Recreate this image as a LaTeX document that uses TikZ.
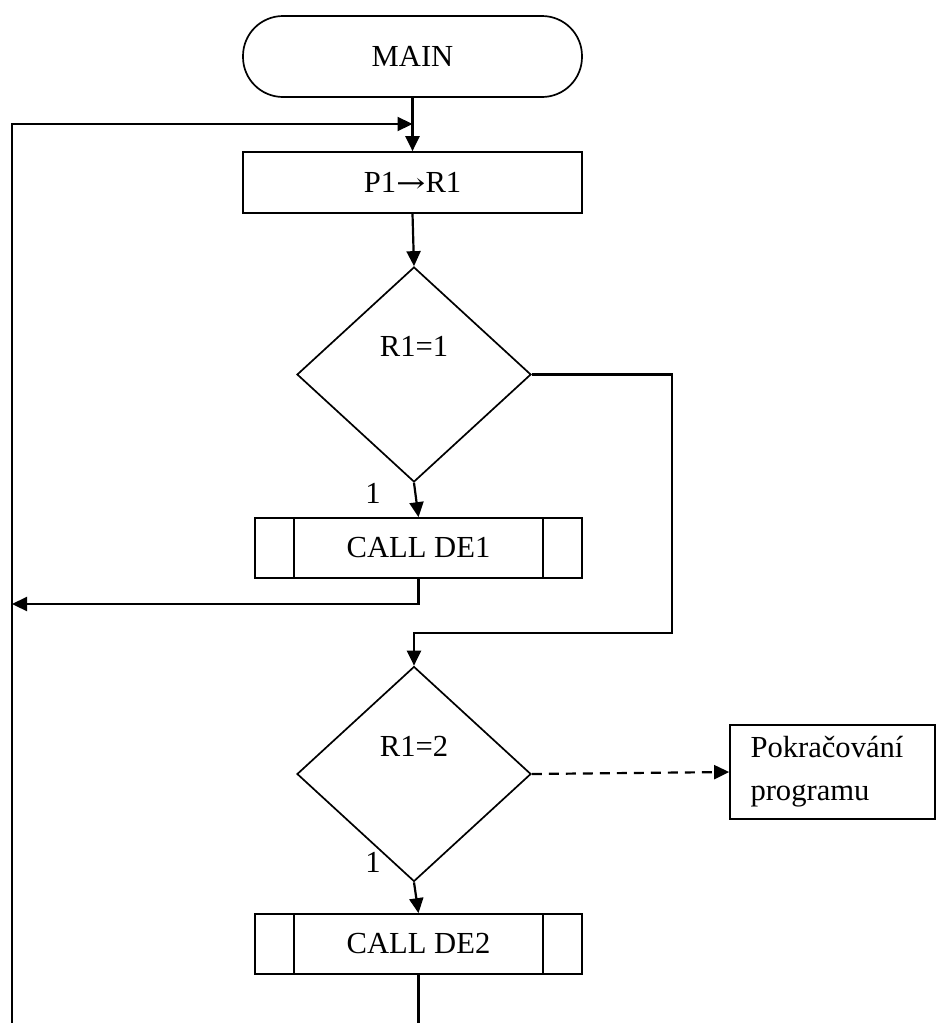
\documentclass[tikz,border=0pt]{standalone}
\usepackage{fontspec}
\setmainfont{Liberation Serif}
\newfontfamily\arrowfont{DejaVu Serif}
\usetikzlibrary{shapes.geometric,arrows.meta,calc}
\begin{document}
\begin{tikzpicture}[x=1pt,y=-1pt,
  every node/.style={font=\fontsize{30.6pt}{43pt}\selectfont},
  boxline/.style={line width=1.7pt},
  conn/.style={line width=2.2pt},
  tip/.style={-{Triangle[length=15pt,width=14pt]}},
  terminal/.style={boxline,draw,rounded corners=40pt,minimum width=339pt,minimum height=81pt,inner sep=0pt},
  process/.style={boxline,draw,minimum width=339pt,minimum height=61pt,inner sep=0pt},
  subproc/.style={boxline,draw,minimum width=327pt,minimum height=60pt,inner sep=0pt},
  decision/.style={boxline,draw,diamond,minimum width=234pt,minimum height=215pt,inner sep=0pt},
  plain/.style={inner sep=0pt}
]
\useasboundingbox (0,0) rectangle (936,1023);

% nodes
\node[terminal] (main) at (412.5,56.5) {MAIN};
\node[process]  (p1)   at (412.5,182.5) {P1{\arrowfont\fontsize{27pt}{43pt}\selectfont\scalebox{1.3}[1]{→}}R1};
\node[decision] (d1)   at (414,374.5) {};
\node[plain]    (d1t)  at (414,346) {R1=1};
\node[subproc]  (c1)   at (418.5,548) {CALL DE1};
\node[plain]    (l1)   at (373,493) {1};
\node[decision] (d2)   at (414,774) {};
\node[plain]    (d2t)  at (414,746) {R1=2};
\node[plain]    (l2)   at (373,862) {1};
\node[subproc]  (c2)   at (418.5,944) {CALL DE2};
\node[boxline,draw,minimum width=205pt,minimum height=94pt,text width=164pt,
      align=left,inner sep=0pt] (cont) at (832.5,772) {Pokračování\\programu};

% side bars of the subroutine boxes
\foreach \c in {c1,c2}{
  \draw[boxline] ($(\c.north west)+(39.5,0)$) -- ($(\c.south west)+(39.5,0)$);
  \draw[boxline] ($(\c.north east)+(-40,0)$) -- ($(\c.south east)+(-40,0)$);
}

% auxiliary points of the connectors
\coordinate (loopbot) at (12,1023);
\coordinate (join)    at (412.5,124);
\coordinate (ret1)    at (12,604);
\coordinate (rbend)   at (672,633);
\coordinate (end2)    at (418.5,1023);

% connectors
\draw[conn,tip] (main.south) -- (p1.north);
\draw[conn,tip] (loopbot) |- (join);
\draw[conn,tip] (p1.south) -- (d1.north);
\draw[conn,tip] (d1.south) -- (c1.north);
\draw[conn,tip] (c1.south) |- (ret1);
\draw[conn,tip] (d1.east) -| (rbend) -| (d2.north);
\draw[conn,tip,dash pattern=on 10pt off 7pt] (d2.east) -- (cont.west);
\draw[conn,tip] (d2.south) -- (c2.north);
\draw[conn] (c2.south) -- (end2);
\end{tikzpicture}
\end{document}
